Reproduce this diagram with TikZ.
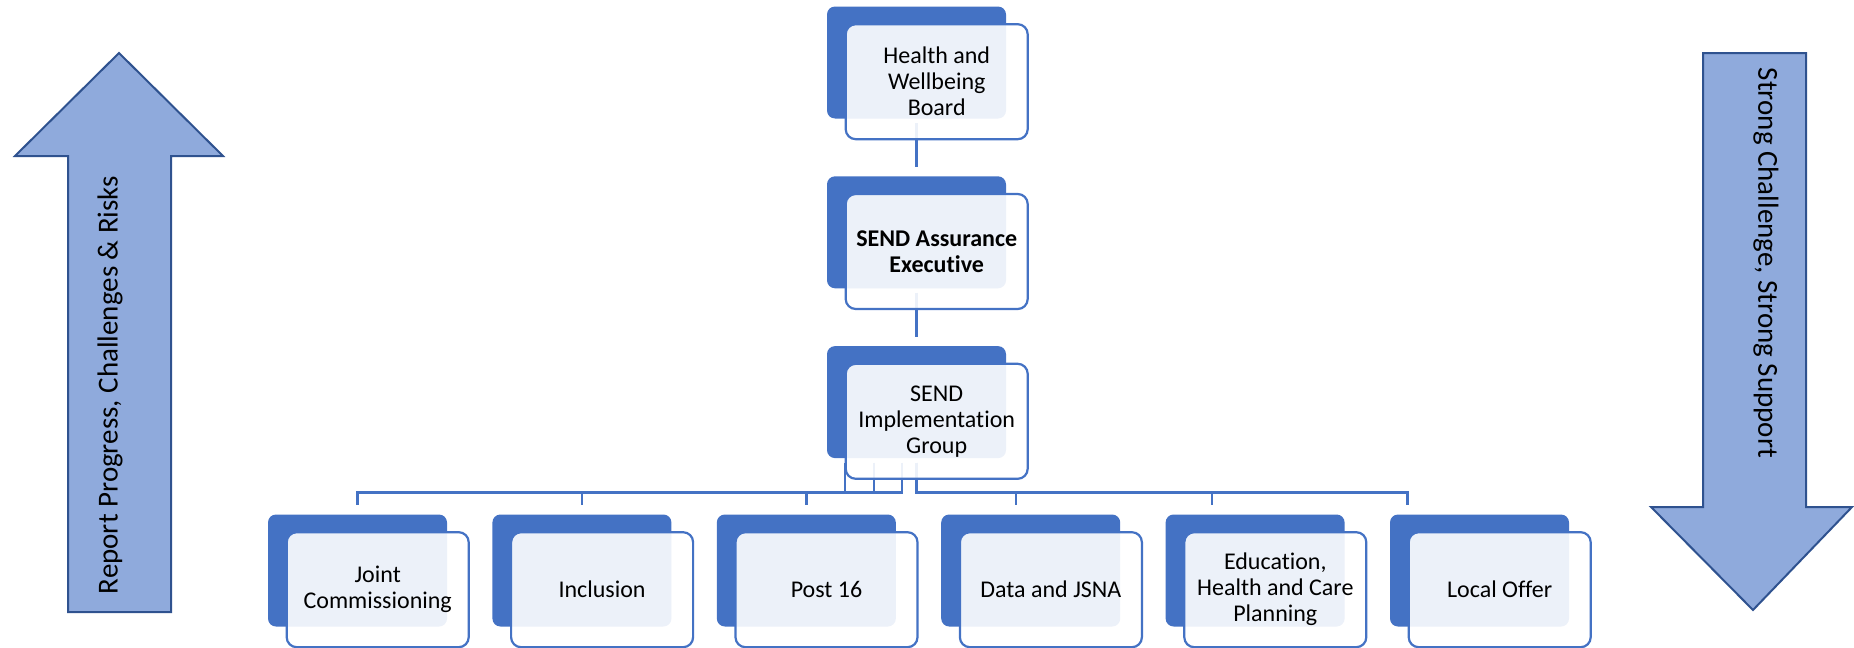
\documentclass[tikz,border=0pt]{standalone}
\usepackage{fontspec}
\setmainfont{Carlito}[Ligatures=NoCommon]
\usetikzlibrary{positioning}
\definecolor{smblue}{HTML}{4472C4}
\definecolor{arrowfill}{HTML}{8FAADC}
\definecolor{arrowedge}{HTML}{2F528F}

\begin{document}
\begin{tikzpicture}[
  x=0.5pt, y=-0.5pt,
  font=\fontsize{12}{13}\selectfont,
  back/.style={fill=smblue, rounded corners=4pt, minimum width=89.5pt, minimum height=56pt, inner sep=0pt},
  card/.style={draw=smblue, line width=1.1pt, fill=white, fill opacity=0.9, text opacity=1, rounded corners=5pt,
    minimum width=91pt, minimum height=57.5pt, inner sep=1pt, align=center, anchor=north west},
  link/.style={draw=smblue, line width=1.3pt, shorten <=2pt, shorten >=4.5pt},
  bigarrow/.style={draw=arrowedge, fill=arrowfill, line width=1pt},
  arrowtext/.style={font=\fontsize{14.5}{17}\selectfont},
  node distance=28.5pt and 22.3pt
]
\useasboundingbox (0,0) rectangle (1854,648);

% Side arrows
\draw[bigarrow] (119,53) -- (223,156) -- (171,156) -- (171,612) -- (68,612) -- (68,156) -- (15,156) -- cycle;
\draw[bigarrow] (1703,53) -- (1806,53) -- (1806,507) -- (1852,507) -- (1753,610) -- (1651,507) -- (1703,507) -- cycle;
\node[arrowtext, rotate=90] (up) at (110,385) {Report Progress, Challenges \& Risks};
\node[arrowtext, rotate=-90] (down) at (1766,263) {Strong Challenge, Strong Support};

% Back plates
\node[back] (hwb-b) at (916.5,62.5) {};
\node[back, below=of hwb-b] (sae-b) {};
\node[back, below=of sae-b] (sig-b) {};
\node[back] (jc-b) at (357.5,570.5) {};
\node[back, right=of jc-b] (inc-b) {};
\node[back, right=of inc-b] (p16-b) {};
\node[back, right=of p16-b] (dj-b) {};
\node[back, right=of dj-b] (ehc-b) {};
\node[back, right=of ehc-b] (lo-b) {};

% Connections
\draw[link] (hwb-b.south) -- (sae-b.north);
\draw[link] (sae-b.south) -- (sig-b.north);
\draw[link] ([xshift=-35.75pt]sig-b.south) -- ++(0,-17pt) -| (jc-b.north);
\draw[link] ([xshift=-21.25pt]sig-b.south) -- ++(0,-17pt) -| (inc-b.north);
\draw[link] ([xshift=-7.25pt]sig-b.south) -- ++(0,-17pt) -| (p16-b.north);
\draw[link] (sig-b.south) -- ++(0,-17pt) -| ([xshift=-7.35pt]dj-b.north);
\draw[link] (sig-b.south) -- ++(0,-17pt) -| ([xshift=-21.5pt]ehc-b.north);
\draw[link] (sig-b.south) -- ++(0,-17pt) -| ([xshift=-36pt]lo-b.north);

% Cards
\node[card] (hwb) at ([shift={(9pt,-8.5pt)}]hwb-b.north west) {Health and\\Wellbeing\\Board};
\node[card, font=\fontsize{12}{13}\selectfont\bfseries] (sae) at ([shift={(9pt,-8.5pt)}]sae-b.north west) {SEND Assurance\\Executive};
\node[card] (sig) at ([shift={(9pt,-8.5pt)}]sig-b.north west) {SEND\\Implementation\\Group};
\node[card] (jc) at ([shift={(9pt,-8.5pt)}]jc-b.north west) {Joint\\Commissioning};
\node[card] (inc) at ([shift={(9pt,-8.5pt)}]inc-b.north west) {Inclusion};
\node[card] (p16) at ([shift={(9pt,-8.5pt)}]p16-b.north west) {Post 16};
\node[card] (dj) at ([shift={(9pt,-8.5pt)}]dj-b.north west) {Data and JSNA};
\node[card] (ehc) at ([shift={(9pt,-8.5pt)}]ehc-b.north west) {Education,\\Health and Care\\Planning};
\node[card] (lo) at ([shift={(9pt,-8.5pt)}]lo-b.north west) {Local Offer};

\end{tikzpicture}
\end{document}
